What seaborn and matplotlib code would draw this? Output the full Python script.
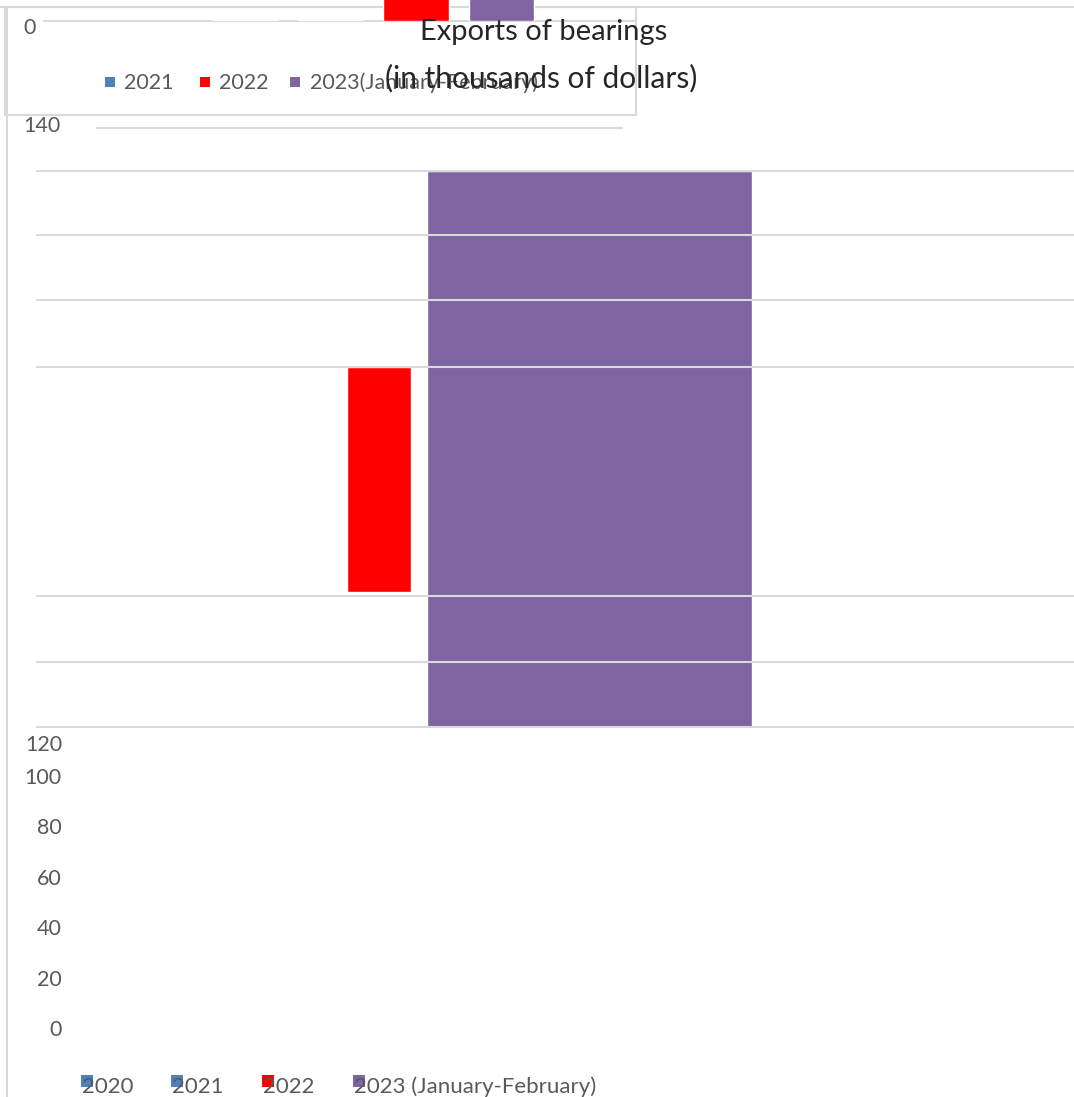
import matplotlib

matplotlib.use("Agg")
import matplotlib.pyplot as plt
import pandas as pd
import seaborn as sns
from matplotlib.lines import Line2D
from matplotlib.patches import Rectangle

# 캔버스 크기(px) - 참조 이미지와 동일
W, H = 1074, 1097

# ---- 데이터 ----
YEARS = ["2020", "2021", "2022", "2023 (January-February)"]
TOP_VALUES = [1.5, 1.5, 42, 136]          # 상단 띠(잘린 차트)의 막대
MID_YEARS = ["2022", "2023 (January-February)"]
MID_LOW = [34.0, 0.0]                      # 가운데 차트 막대의 아래 끝
MID_HIGH = [90.6, 140.0]                   # 가운데 차트 막대의 위 끝
MID_GRID = [0, 16.4, 33.0, 90.6, 107.5, 124.0, 140.0]
LOWER_TICKS = [0, 20, 40, 60, 80, 100]
STRAY_TICK = "120"
TOP_TICK_LABELS = ["0", "140"]
TOP_LEGEND = ["2021", "2022", "2023(January-February)"]
TITLE = ["Exports of bearings", "(in thousands of dollars)"]

COLORS = {
    "2020": "#4F81BD",
    "2021": "#4F81BD",
    "2022": "#FF0000",
    "2023 (January-February)": "#8064A2",
}
GRID = "#d9d9d9"
TEXT = "#595959"
FS = 15.5


def fx(px):
    return px / W


def fy(py):
    return 1 - py / H


def axes_at(fig, x0, y0, x1, y1):
    ax = fig.add_axes([fx(x0), fy(y1), (x1 - x0) / W, (y1 - y0) / H])
    ax.set_facecolor("none")
    return ax


def fig_line(fig, xs, ys, **kw):
    fig.add_artist(Line2D([fx(x) for x in xs], [fy(y) for y in ys],
                          transform=fig.transFigure, color=GRID, lw=1.5,
                          zorder=-1, **kw))


def fig_square(fig, x, y, size, color):
    fig.add_artist(Rectangle((fx(x), fy(y + size)), size / W, size / H,
                             transform=fig.transFigure, color=color, lw=0))


sns.set_theme(style="white")
plt.rcParams["font.family"] = ["Lato", "DejaVu Sans"]

fig = plt.figure(figsize=(W / 100, H / 100), dpi=100)

# 틀 선
fig_line(fig, [0, W], [7, 7])
fig_line(fig, [7, 7], [7, H])
fig.add_artist(Rectangle((fx(5), fy(115)), (636 - 5) / W, (115 - 7) / H,
                         transform=fig.transFigure, fill=False, ec=GRID,
                         lw=1.5, zorder=-1))

# ---- 상단 띠: 잘린 막대 ----
ax_top = axes_at(fig, 44, 0, 636, 21)
sns.barplot(x=YEARS, y=TOP_VALUES, hue=YEARS, palette=COLORS, legend=False,
            width=0.77, saturation=1, ax=ax_top)
ax_top.axhline(0, color=GRID, lw=1.5, zorder=0, clip_on=False)
ax_top.set_xlim(-2.351, 4.573)
ax_top.set_ylim(0, 30)
ax_top.axis("off")

fig.text(fx(36), fy(28), TOP_TICK_LABELS[0], ha="right", va="center",
         color=TEXT, size=FS)
fig.text(fx(61), fy(126), TOP_TICK_LABELS[1], ha="right", va="center",
         color=TEXT, size=FS)
fig_line(fig, [97, 622], [128, 128])

# 상단 범례
for label, sq_x, tx_x in zip(TOP_LEGEND, [105, 200, 290], [124, 219, 310]):
    key = label if label in COLORS else YEARS[3]
    fig_square(fig, sq_x, 77, 10, COLORS[key])
    fig.text(fx(tx_x), fy(83), label, ha="left", va="center", color=TEXT,
             size=FS)

# 제목 (범례 위에 겹쳐 그려짐)
fig.text(fx(544), fy(32), TITLE[0], ha="center", va="center",
         color="#262626", size=21)
fig.text(fx(541), fy(78), TITLE[1], ha="center", va="center",
         color="#262626", size=21.5)

# ---- 가운데 차트 ----
ax_mid = axes_at(fig, 37, 171, W, 727)
mid = pd.DataFrame({"year": MID_YEARS, "low": MID_LOW, "high": MID_HIGH})
mid["pos"] = [YEARS.index(y) for y in mid["year"]]
ax_mid.bar(mid["pos"], mid["high"] - mid["low"], bottom=mid["low"],
           width=[0.304, 1.544], color=[COLORS[y] for y in mid["year"]],
           zorder=2)
for v in MID_GRID:
    ax_mid.axhline(v, color=GRID, lw=1.5, zorder=3, clip_on=False)
ax_mid.set_xlim(0.3753, 5.302)
ax_mid.set_ylim(0, 140)
ax_mid.axis("off")

# ---- 하단 축 눈금 ----
ax_low = axes_at(fig, 70, 776, W, 1028)
ax_low.set_ylim(0, 100)
ax_low.set_yticks(LOWER_TICKS, [str(t) for t in LOWER_TICKS])
ax_low.set_xticks([])
ax_low.tick_params(axis="y", length=0, pad=6, labelsize=FS,
                   labelcolor=TEXT)
sns.despine(ax=ax_low, left=True, bottom=True)
fig.text(fx(62), fy(745), STRAY_TICK, ha="right", va="center", color=TEXT,
         size=FS)

# 하단 범례 (표식 위에 글자가 겹침)
for year, x in zip(YEARS, [81, 171, 262, 353]):
    fig_square(fig, x, 1075, 12, COLORS[year])
    fig.text(fx(x + 1), fy(1087), year, ha="left", va="center", color=TEXT,
             size=FS + 0.5, zorder=5)

fig.savefig("out.png", dpi=100)
